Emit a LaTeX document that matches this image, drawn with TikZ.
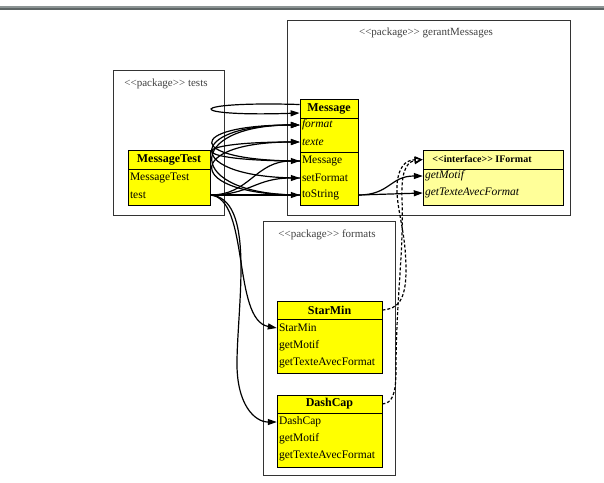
\documentclass[tikz,border=0pt]{standalone}
\usepackage{fontspec}
\setmainfont{Liberation Serif}
\usetikzlibrary{arrows.meta}
\definecolor{classfill}{HTML}{FFFF00}
\definecolor{ifacefill}{HTML}{FFFF99}
\definecolor{framegray}{HTML}{333333}
\definecolor{labelgray}{HTML}{404040}
\definecolor{barlight}{HTML}{8C9494}
\definecolor{bardark}{HTML}{5E6666}
\newcommand{\stereo}[1]{<\kern0pt<#1>\kern0pt>}
\tikzset{
  pkg/.style={draw=framegray, line width=0.8pt},
  pkglabel/.style={text=labelgray, inner sep=0pt},
  classhead/.style={draw=black, fill=classfill, font=\fontsize{12}{14}\selectfont\bfseries, inner sep=0pt, line width=0.8pt},
  compart/.style={draw=black, fill=classfill, inner sep=0pt, line width=0.8pt},
  member/.style={inner xsep=2pt, inner ysep=0pt, align=left, font=\fontsize{11.5}{13}\selectfont},
  use/.style={-{Triangle[length=9pt,width=6pt]}, line width=1.2pt},
  realize/.style={-{Triangle[open,length=8pt,width=7pt]}, dash pattern=on 3pt off 2pt, line width=1.2pt}
}
\begin{document}
\begin{tikzpicture}[x=1pt,y=-1pt,font=\fontsize{11}{13}\selectfont]
\useasboundingbox (0,0) rectangle (604,482);
% bar at the top
\fill[barlight] (0,6) rectangle (604,8);
\fill[bardark] (0,8) rectangle (604,10);

% packages
\draw[pkg] (113,70) rectangle (224,215);
\draw[pkg] (287,20) rectangle (570,215);
\draw[pkg] (263,221) rectangle (395,475);
\node[pkglabel] (lbltests) at (166,84) {\stereo{package} tests};
\node[pkglabel] (lblgerant) at (426,33) {\stereo{package} gerantMessages};
\node[pkglabel] (lblformats) at (327,235) {\stereo{package} formats};

% class MessageTest
\node[classhead, minimum width=82pt, minimum height=19pt] (mtest) at (169,159.5) {MessageTest};
\node[compart, minimum width=82pt, minimum height=36pt] (mtestops) at (169,187) {};
\node[member, text width=78pt] (mtestcons) at (169,178) {MessageTest};
\node[member, text width=78pt] (test) at (169,195) {test};

% class Message
\node[classhead, minimum width=58pt, minimum height=19pt] (msg) at (329,108.5) {Message};
\node[compart, minimum width=58pt, minimum height=34pt] (msgattr) at (329,135) {};
\node[compart, minimum width=58pt, minimum height=53pt] (msgops) at (329,178.5) {};
\node[member, text width=54pt] (format) at (329,125) {\textit{format}};
\node[member, text width=54pt] (texte) at (329,142) {\textit{texte}};
\node[member, text width=54pt] (msgcons) at (329,161) {Message};
\node[member, text width=54pt] (setfmt) at (329,178) {setFormat};
\node[member, text width=54pt] (tostr) at (329,195) {toString};

% interface IFormat
\node[classhead, fill=ifacefill, minimum width=140pt, minimum height=19pt, font=\bfseries] (iface) at (493,159.5) {\stereo{interface} IFormat\hspace*{22pt}};
\node[compart, fill=ifacefill, minimum width=140pt, minimum height=36pt] (ifaceops) at (493,187) {};
\node[member, text width=136pt] (gmotif) at (493,176) {\textit{getMotif}};
\node[member, text width=136pt] (gtexte) at (493,193) {\textit{getTexteAvecFormat}};

% class StarMin
\node[classhead, minimum width=105pt, minimum height=18pt] (sm) at (329.5,310) {StarMin};
\node[compart, minimum width=105pt, minimum height=54pt] (smops) at (329.5,346) {};
\node[member, text width=101pt] (smcons) at (329.5,328) {StarMin};
\node[member, text width=101pt] (smmotif) at (329.5,346) {getMotif};
\node[member, text width=101pt] (smtexte) at (329.5,363) {getTexteAvecFormat};

% class DashCap
\node[classhead, minimum width=105pt, minimum height=18pt] (dc) at (329.5,404) {DashCap};
\node[compart, minimum width=105pt, minimum height=54pt] (dcops) at (329.5,440) {};
\node[member, text width=101pt] (dccons) at (329.5,422) {DashCap};
\node[member, text width=101pt] (dcmotif) at (329.5,439) {getMotif};
\node[member, text width=101pt] (dctexte) at (329.5,456) {getTexteAvecFormat};

% uses inside Message
\draw[use] ([yshift=4pt]msg.west) .. controls (183,101) and (183,117) .. ([yshift=-4.5pt]msg.west);
\foreach \from/\to in {msgcons/format, msgcons/texte, setfmt/format, tostr/format, tostr/texte}
  \draw[use] (\from.west) .. controls +(-116,0) and +(-116,0) .. (\to.west);

% uses from test
\draw[use] (test.east) .. controls (250,195) and (255,161) .. (msgcons.west);
\draw[use] (test.east) .. controls (250,195) and (255,178) .. (setfmt.west);
\draw[use] (test.east) -- (tostr.west);
\draw[use] (test.east) .. controls (250,198) and (232,320) .. (smcons.west);
\draw[use] (test.east) .. controls (255,198) and (238,300) .. (237,360) .. controls (236,405) and (255,422) .. (dccons.west);

% uses from toString
\draw[use] (tostr.east) .. controls (390,195) and (390,176) .. (gmotif.west);
\draw[use] (tostr.east) -- (gtexte.west);

% realizations
\draw[realize] (sm.east) .. controls (398,309) and (406,300) .. (406,270) .. controls (406,230) and (396,210) .. (397,185) .. controls (398,168) and (405,160) .. (iface.west);
\draw[realize] (dc.east) .. controls (392,403) and (396,395) .. (396,370) .. controls (396,300) and (404,250) .. (402,200) .. controls (401,175) and (405,162) .. (iface.west);
\end{tikzpicture}
\end{document}
